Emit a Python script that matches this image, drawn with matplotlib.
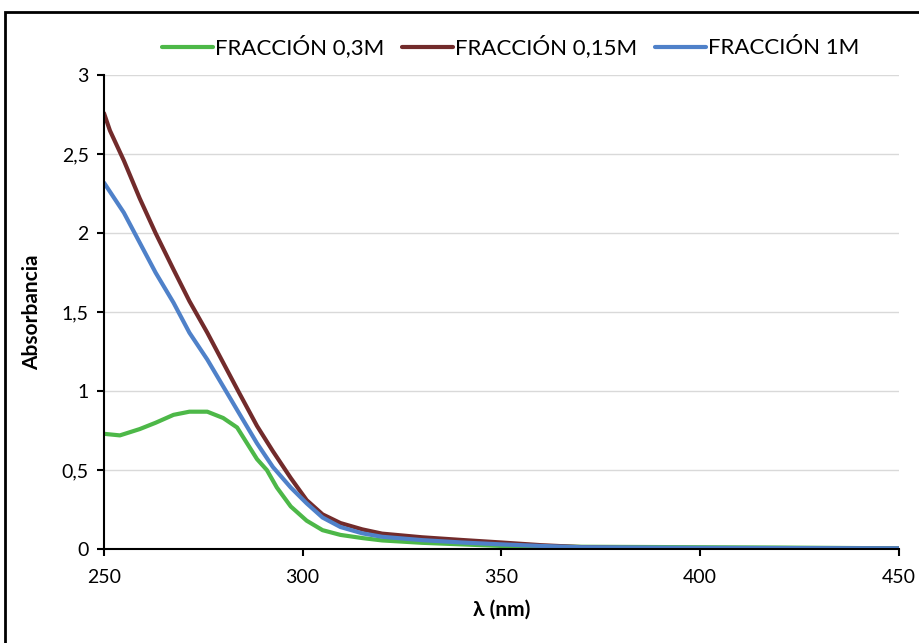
import matplotlib
matplotlib.use('Agg')
import matplotlib.pyplot as plt
from matplotlib.ticker import FuncFormatter, MultipleLocator
from matplotlib.patches import Rectangle

# Spectra (wavelength nm -> absorbance)
nm_015 = [250, 251.5, 255, 259, 263, 267.5, 271.5, 276, 280, 284, 288.5, 292.5, 297,
          301, 305, 309.5, 315, 320, 330, 340, 350, 360, 370, 380, 400, 425, 450]
abs_015 = [2.76, 2.65, 2.46, 2.22, 2.00, 1.77, 1.57, 1.37, 1.18, 0.99, 0.78, 0.62, 0.45,
           0.31, 0.22, 0.165, 0.125, 0.098, 0.075, 0.058, 0.042, 0.025, 0.013, 0.008, 0.005, 0.004, 0.003]

nm_1 = [250, 255, 259, 263, 267.5, 271.5, 276, 280, 284, 288.5, 292.5, 297, 301, 305,
        309.5, 315, 320, 330, 340, 350, 360, 370, 400, 450]
abs_1 = [2.32, 2.13, 1.94, 1.75, 1.56, 1.37, 1.20, 1.03, 0.86, 0.67, 0.52, 0.39, 0.29, 0.20,
         0.14, 0.10, 0.078, 0.057, 0.042, 0.03, 0.02, 0.012, 0.008, 0.005]

nm_03 = [250, 254, 259, 263, 267.5, 271.5, 276, 280, 283.5, 286, 288.5, 291, 293.5, 297,
         301, 305, 309.5, 315, 320, 330, 340, 350, 370, 400, 420, 450]
abs_03 = [0.73, 0.72, 0.76, 0.80, 0.85, 0.87, 0.87, 0.83, 0.77, 0.67, 0.57, 0.50, 0.39, 0.27,
          0.18, 0.12, 0.09, 0.07, 0.055, 0.04, 0.03, 0.02, 0.015, 0.012, 0.01, 0.005]

plt.rcParams['font.family'] = ['Lato', 'DejaVu Sans']

fig = plt.figure(figsize=(9.2, 6.43), dpi=100)
ax = fig.add_axes([0.113, 0.146, 0.864, 0.737])

line_kw = dict(lw=3, solid_joinstyle='round', solid_capstyle='round')
l1, = ax.plot(nm_03, abs_03, color='#4db848', label='FRACCIÓN 0,3M', **line_kw)
l2, = ax.plot(nm_015, abs_015, color='#722b2b', label='FRACCIÓN 0,15M', **line_kw)
l3, = ax.plot(nm_1, abs_1, color='#4f81c9', label='FRACCIÓN 1M', **line_kw)

ax.set_xlim(250, 450)
ax.set_ylim(0, 3)
ax.xaxis.set_major_locator(MultipleLocator(50))
ax.yaxis.set_major_locator(MultipleLocator(0.5))
ax.yaxis.set_major_formatter(FuncFormatter(lambda v, p: f"{v:g}".replace('.', ',')))
ax.grid(axis='y', color='#d9d9d9', lw=1)
ax.set_axisbelow(True)
for s in ['top', 'right']:
    ax.spines[s].set_visible(False)
for s in ['left', 'bottom']:
    ax.spines[s].set_linewidth(1.5)
ax.tick_params(axis='both', labelsize=14, width=1.5, length=5, direction='out')
ax.tick_params(axis='x', pad=9)
ax.tick_params(axis='y', pad=6)

ax.set_xlabel('λ (nm)', fontsize=15, fontweight='bold', labelpad=10)
ax.set_ylabel('Absorbancia', fontsize=15, fontweight='bold', labelpad=14)

fig.legend(handles=[l1, l2, l3], loc='center', bbox_to_anchor=(0.555, 0.927), ncol=3,
           frameon=False, fontsize=16, handlelength=2.3, handletextpad=0.1,
           columnspacing=0.8)

fig.patches.append(Rectangle((0.0054, -0.05), 1.1, 1.031,
                             transform=fig.transFigure, fill=False,
                             edgecolor='black', lw=2))

fig.savefig('out.png', dpi=100)
